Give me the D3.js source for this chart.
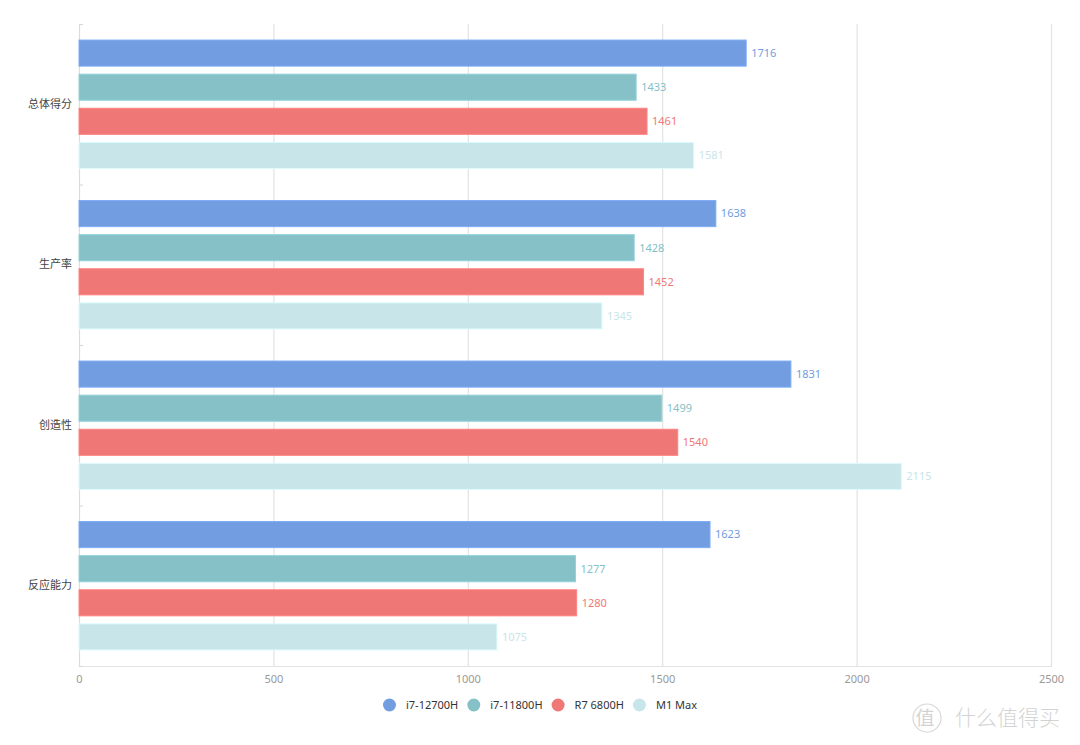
<!DOCTYPE html>
<html><head><meta charset="utf-8">
<script src="https://cdn.jsdelivr.net/npm/d3@7"></script>
<style>
body{margin:0;background:#fff;}
text{font-family:"Noto Sans","Noto Sans CJK SC",sans-serif;}
</style></head>
<body>
<svg id="c" width="1080" height="745"></svg>
<script>
const categories = ["总体得分","生产率","创造性","反应能力"];
const seriesNames = ["i7-12700H","i7-11800H","R7 6800H","M1 Max"];
const seriesColors = ["#729de1","#85c1c7","#ef7876","#c8e6e9"];
const valI7_12700H = [1716,1638,1831,1623];
const valI7_11800H = [1433,1428,1499,1277];
const valR7_6800H  = [1461,1452,1540,1280];
const valM1Max     = [1581,1345,2115,1075];
const xTicks = [0,500,1000,1500,2000,2500];
const seriesValues = [valI7_12700H,valI7_11800H,valR7_6800H,valM1Max];

(function(){
const svg = d3.select("#c");
const mLeft = 79, mRight = 1051, mTop = 24, mBottom = 666;
const x = d3.scaleLinear().domain([0,2500]).range([mLeft,mRight]);
const y = d3.scaleBand().domain(categories).range([mTop,mBottom]).paddingInner(0).paddingOuter(0);
const bandH = y.bandwidth();
const pad = bandH*0.1;
const inner = d3.scaleBand().domain(seriesNames).range([pad,bandH-pad]).paddingInner(0.235).paddingOuter(0);

// grid lines
svg.append("g").selectAll("line").data(xTicks.filter(d=>d>0)).join("line")
  .attr("x1",d=>x(d)+0.5).attr("x2",d=>x(d)+0.5).attr("y1",mTop).attr("y2",mBottom)
  .attr("stroke","#e3e3e3").attr("stroke-width",1.2);

// bottom axis line
svg.append("line").attr("x1",mLeft).attr("x2",mRight+1).attr("y1",mBottom+0.5).attr("y2",mBottom+0.5)
  .attr("stroke","#e3e3e3").attr("stroke-width",1.2);

// x tick labels
const xAxis = d3.axisBottom(x).tickValues(xTicks).tickSize(0).tickPadding(8).tickFormat(d3.format("d"));
const gx = svg.append("g").attr("transform",`translate(0,${mBottom+1})`).call(xAxis);
gx.select(".domain").remove();
gx.selectAll("text").attr("fill","#999").attr("font-size",11);

// left axis
const yAxis = d3.axisLeft(y).tickSize(0).tickPadding(7);
const gy = svg.append("g").attr("transform",`translate(${mLeft},0)`).call(yAxis);
gy.select(".domain").remove();
gy.selectAll("text").attr("fill","#444").attr("font-size",11);
svg.append("line").attr("x1",mLeft+0.5).attr("x2",mLeft+0.5).attr("y1",mTop).attr("y2",mBottom)
  .attr("stroke","#dcdcdc").attr("stroke-width",1.2);
const bounds = categories.map(c=>y(c)).concat([mBottom]);
svg.append("g").selectAll("line").data(bounds).join("line")
  .attr("x1",mLeft).attr("x2",mLeft+4).attr("y1",d=>d+0.5).attr("y2",d=>d+0.5)
  .attr("stroke","#d6d6d6").attr("stroke-width",1);

// bars
const groups = svg.append("g").selectAll("g").data(categories).join("g")
  .attr("transform",c=>`translate(0,${y(c)})`);
groups.each(function(c,ci){
  const g = d3.select(this);
  seriesNames.forEach((s,si)=>{
    const v = seriesValues[si][ci];
    const col = seriesColors[si];
    g.append("rect").attr("x",x(0)).attr("y",inner(s))
      .attr("width",x(v)-x(0)).attr("height",inner.bandwidth())
      .attr("fill",col).attr("stroke",d3.color(col).brighter(0.25)).attr("stroke-width",1);
    g.append("text").attr("x",x(v)+5).attr("y",inner(s)+inner.bandwidth()/2)
      .attr("dy","0.35em").attr("fill",col).attr("font-size",11).text(v);
  });
});

// legend
const lg = svg.append("g");
const items = [];
seriesNames.forEach((s,i)=>{
  const g = lg.append("g");
  g.append("circle").attr("cx",6.5).attr("cy",0).attr("r",6.5).attr("fill",seriesColors[i]);
  const t = g.append("text").attr("x",23).attr("y",0).attr("dy","0.35em").attr("font-size",11).attr("fill","#333").text(s);
  const w = 23 + t.node().getComputedTextLength();
  items.push({g,w});
});
const gap = 9;
const total = d3.sum(items,d=>d.w) + gap*(items.length-1);
let pos = 540 - total/2;
items.forEach(it=>{ it.g.attr("transform",`translate(${pos},705)`); pos += it.w + gap; });

// watermark
const wm = svg.append("g").attr("opacity",0.9);
wm.append("circle").attr("cx",927).attr("cy",718).attr("r",14).attr("fill","none").attr("stroke","#d4d4d4").attr("stroke-width",1.2);
wm.append("text").attr("x",925).attr("y",718).attr("dy","0.35em").attr("text-anchor","middle")
  .attr("font-size",19).attr("fill","#cfcfcf").attr("font-family","Noto Sans CJK SC").text("值");
wm.append("text").attr("x",955).attr("y",718).attr("dy","0.35em")
  .attr("font-size",21).attr("fill","#cfcfcf").attr("font-family","Noto Sans CJK SC").attr("font-weight",300).text("什么值得买");
})();
</script>
</body></html>
